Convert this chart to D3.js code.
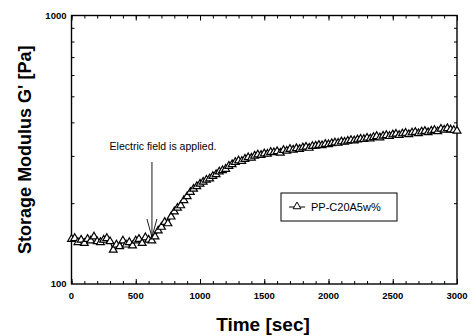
<!DOCTYPE html>
<html>
<head>
<meta charset="utf-8">
<script src="https://cdn.jsdelivr.net/npm/d3@7"></script>
<style>
  html, body { margin: 0; padding: 0; background: #fff; }
  svg text { font-family: Arial, "Liberation Sans", sans-serif; fill: #000; }
</style>
</head>
<body>
<div id="chart"></div>
<script>
// time axis [sec] and storage modulus G' [Pa]
const times = d3.range(0, 3001, 25);
const modulus = [
  147, 148, 143, 146, 142, 147, 145, 150, 144, 143,
  146, 148, 144, 134, 140, 138, 145, 140, 143, 139,
  145, 147, 142, 149, 146, 145, 150, 158, 163, 170,
  168, 178, 186, 192, 196, 205, 212, 220, 226, 231,
  236, 240, 244, 247, 252, 256, 262, 265, 268, 275,
  279, 284, 288, 287, 292, 296, 295, 300, 303, 302,
  306, 305, 310, 309, 312, 308, 315, 313, 318, 316,
  320, 318, 322, 324, 321, 326, 327, 329, 328, 332,
  331, 334, 336, 335, 339, 338, 341, 343, 342, 345,
  347, 346, 350, 348, 352, 355, 351, 356, 358, 355,
  360, 362, 358, 363, 365, 361, 366, 368, 364, 369,
  371, 367, 372, 374, 370, 378, 375, 380, 376, 374,
  372
];
const xTicks = [0, 500, 1000, 1500, 2000, 2500, 3000];
const yLabels = [100, 1000];
const seriesName = "PP-C20A5w%";
const note = "Electric field is applied.";
const fieldOnTime = 626;

const width = 470, height = 336;
const margin = { left: 71.5, right: 13, top: 15.5, bottom: 52 };

const svg = d3.select("#chart").append("svg")
  .attr("width", width).attr("height", height);

const x = d3.scaleLinear().domain([0, 3000]).range([margin.left, width - margin.right]);
const y = d3.scaleLog().domain([100, 1000]).range([height - margin.bottom, margin.top]);

const minorX = d3.range(0, 3001, 100);
const minorY = d3.range(200, 1000, 100);

// inward ticks on all four sides
const tick = g => g.call(s => s.selectAll(".domain").remove())
  .call(s => s.selectAll("text").remove())
  .call(s => s.selectAll("line").attr("stroke", "#000").attr("stroke-width", 1));

svg.append("g").attr("transform", `translate(0,${y(100)})`)
  .call(d3.axisBottom(x).tickValues(minorX).tickSize(-3)).call(tick);
svg.append("g").attr("transform", `translate(0,${y(100)})`)
  .call(d3.axisBottom(x).tickValues(xTicks).tickSize(-5)).call(tick);
svg.append("g").attr("transform", `translate(0,${y(1000)})`)
  .call(d3.axisTop(x).tickValues(minorX).tickSize(-3)).call(tick);
svg.append("g").attr("transform", `translate(0,${y(1000)})`)
  .call(d3.axisTop(x).tickValues(xTicks).tickSize(-5)).call(tick);
svg.append("g").attr("transform", `translate(${x(0)},0)`)
  .call(d3.axisLeft(y).tickValues(minorY).tickSize(-3)).call(tick);
svg.append("g").attr("transform", `translate(${x(3000)},0)`)
  .call(d3.axisRight(y).tickValues(minorY).tickSize(-3)).call(tick);

// frame
svg.append("rect")
  .attr("x", x(0)).attr("y", y(1000))
  .attr("width", x(3000) - x(0)).attr("height", y(100) - y(1000))
  .attr("fill", "none").attr("stroke", "#000").attr("stroke-width", 1.4);

// tick labels
svg.append("g").selectAll("text").data(xTicks).join("text")
  .attr("x", d => x(d)).attr("y", y(100) + 15)
  .attr("text-anchor", "middle").attr("font-size", 9.5).attr("font-weight", "bold")
  .text(d => d);
svg.append("g").selectAll("text").data(yLabels).join("text")
  .attr("x", x(0) - 5).attr("y", d => y(d) + 3)
  .attr("text-anchor", "end").attr("font-size", 9.5).attr("font-weight", "bold")
  .text(d => d);

// axis titles
svg.append("text")
  .attr("x", 263).attr("y", 331)
  .attr("text-anchor", "middle").attr("font-size", 19).attr("font-weight", "bold")
  .text("Time [sec]");
svg.append("text")
  .attr("transform", `translate(31,${(y(100) + y(1000)) / 2}) rotate(-90)`)
  .attr("text-anchor", "middle").attr("font-size", 18).attr("font-weight", "bold")
  .text("Storage Modulus G' [Pa]");

// series
const pts = times.map((t, i) => [t, modulus[i]]);
const line = d3.line().x(d => x(d[0])).y(d => y(d[1]));
svg.append("path").datum(pts)
  .attr("d", line).attr("fill", "none").attr("stroke", "#000").attr("stroke-width", 1.2);

const tri = d3.symbol().type(d3.symbolTriangle).size(26);
svg.append("g").selectAll("path").data(pts).join("path")
  .attr("transform", d => `translate(${x(d[0])},${y(d[1])})`)
  .attr("d", tri).attr("fill", "#fff").attr("stroke", "#000").attr("stroke-width", 1.2);

// annotation arrow
const ax = x(fieldOnTime);
svg.append("line").attr("x1", ax).attr("x2", ax).attr("y1", 162).attr("y2", 237)
  .attr("stroke", "#000").attr("stroke-width", 0.9);
svg.append("path").attr("d", `M${ax - 5},219L${ax},237L${ax + 5},219`)
  .attr("fill", "none").attr("stroke", "#000").attr("stroke-width", 0.9);
svg.append("text").attr("x", 163).attr("y", 150)
  .attr("text-anchor", "middle").attr("font-size", 10.5)
  .text(note);

// legend
const lg = svg.append("g").attr("transform", "translate(281,193)");
lg.append("rect").attr("width", 116).attr("height", 28)
  .attr("fill", "#fff").attr("stroke", "#000").attr("stroke-width", 1);
lg.append("line").attr("x1", 8).attr("x2", 24).attr("y1", 14).attr("y2", 14)
  .attr("stroke", "#000");
lg.append("path").attr("transform", "translate(16,13.5)").attr("d", tri)
  .attr("fill", "#fff").attr("stroke", "#000");
lg.append("text").attr("x", 30).attr("y", 18).attr("font-size", 11)
  .text(seriesName);
</script>
</body>
</html>
